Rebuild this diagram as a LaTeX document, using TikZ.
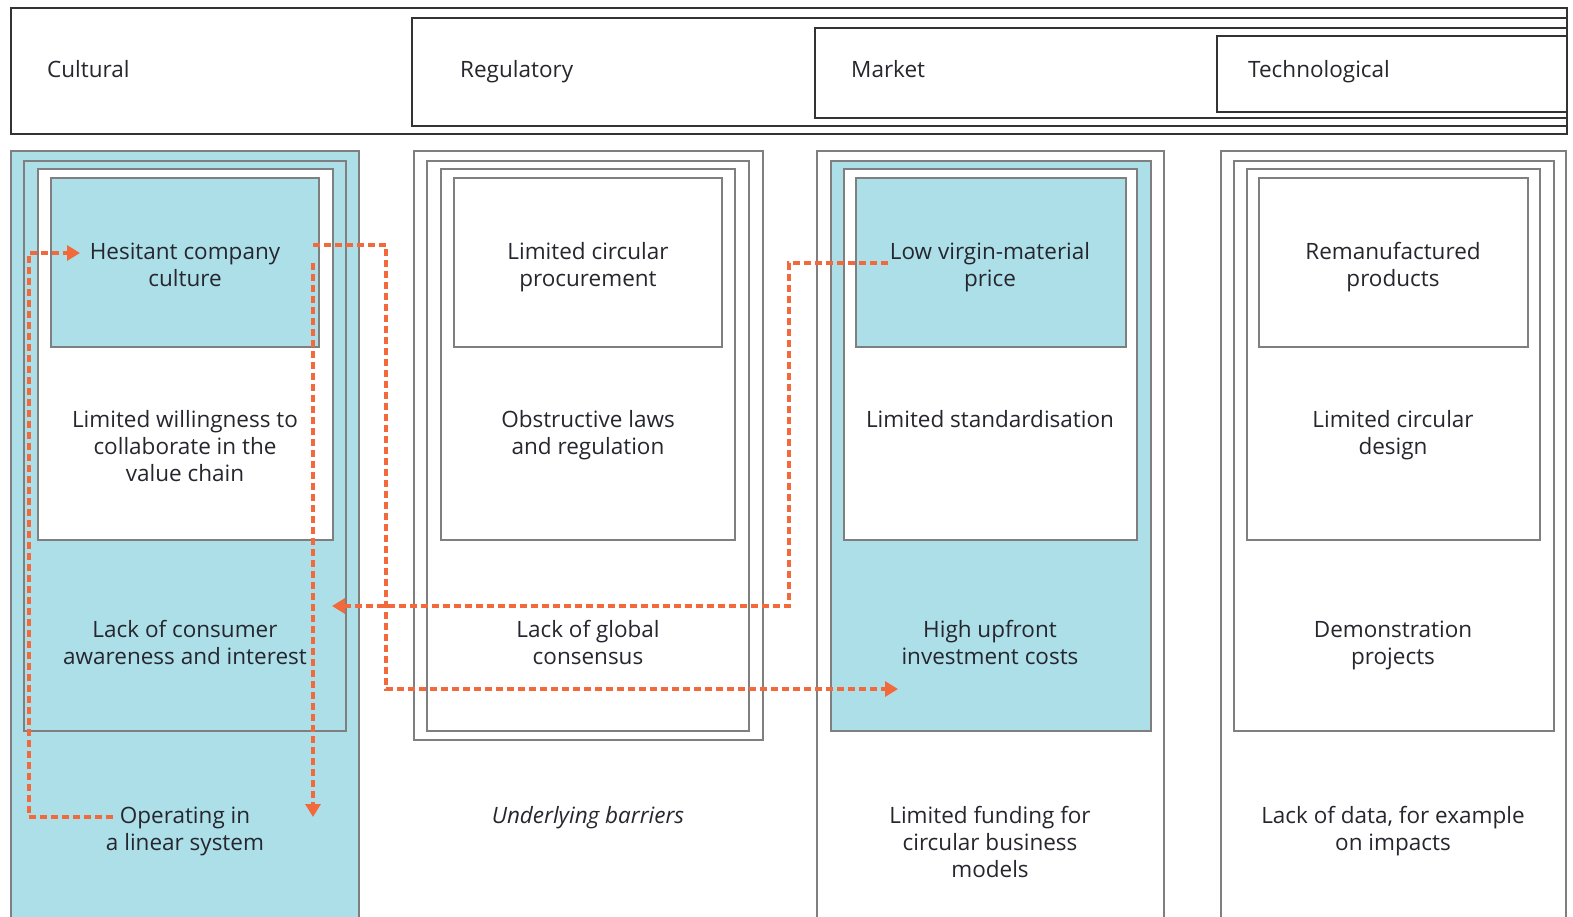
\documentclass[tikz,border=0pt]{standalone}
\usepackage{fontspec}
\setmainfont{Open Sans}
\usetikzlibrary{arrows.meta}
\definecolor{boxblue}{HTML}{ADDFE9}
\definecolor{boxline}{HTML}{7F7F7F}
\definecolor{hdrline}{HTML}{333333}
\definecolor{arr}{HTML}{F26A3B}
\definecolor{txtc}{HTML}{26262E}
\begin{document}
\begin{tikzpicture}[x=1pt,y=-1pt,
 box/.style={draw=boxline,line width=1.4pt},
 bluebox/.style={box,fill=boxblue},
 whitebox/.style={box,fill=white},
 hdr/.style={draw=hdrline,line width=1.3pt,fill=white},
 txt/.style={font=\fontsize{22.5}{27}\selectfont,text=txtc,align=center,anchor=north,inner sep=0pt},
 lbl/.style={font=\fontsize{22.5}{27}\selectfont,text=txtc,anchor=base west,inner sep=0pt},
 link/.style={draw=arr,line width=3.2pt,dash pattern=on 7pt off 4pt},
 tip/.style={-{Triangle[length=13pt,width=15pt]}}
]
\useasboundingbox (0,0) rectangle (1573,917);
\fill[white] (0,0) rectangle (1573,917);
% header
\draw[hdr] (11,8) rectangle (1567,134);
\draw[hdr] (412,18) rectangle (1567,126);
\draw[hdr] (815,28) rectangle (1567,118);
\draw[hdr] (1217,36) rectangle (1567,112);
\node[lbl] (hcult) at (47,78) {Cultural};
\node[lbl] (hreg) at (460,78) {Regulatory};
\node[lbl] (hmar) at (851,78) {Market};
\node[lbl] (htec) at (1248,78) {Technological};
% column 1
\draw[bluebox] (11,151) rectangle (359,930);
\draw[bluebox] (24,161) rectangle (346,731);
\draw[whitebox] (38,169) rectangle (333,540);
\draw[bluebox] (51,178) rectangle (319,347);
% column 2
\draw[whitebox] (414,151) rectangle (763,740);
\draw[whitebox] (427,161) rectangle (749,731);
\draw[whitebox] (441,169) rectangle (735,540);
\draw[whitebox] (454,178) rectangle (722,347);
% column 3
\draw[whitebox] (817,151) rectangle (1164,930);
\draw[bluebox] (831,161) rectangle (1151,731);
\draw[whitebox] (844,169) rectangle (1137,540);
\draw[bluebox] (856,178) rectangle (1126,347);
% column 4
\draw[whitebox] (1221,151) rectangle (1566,930);
\draw[whitebox] (1234,161) rectangle (1554,731);
\draw[whitebox] (1247,169) rectangle (1540,540);
\draw[whitebox] (1259,178) rectangle (1528,347);
% texts
\node[txt] (c1) at (185,242.5) {Hesitant company\\culture};
\node[txt] (c2) at (185,410.5) {Limited willingness to\\collaborate in the\\value chain};
\node[txt] (c3) at (185,620.5) {Lack of consumer\\awareness and interest};
\node[txt] (c4) at (185,806.5) {Operating in\\a linear system};
\node[txt] (r1) at (588,242.5) {Limited circular\\procurement};
\node[txt] (r2) at (588,410.5) {Obstructive laws\\and regulation};
\node[txt] (r3) at (588,620.5) {Lack of global\\consensus};
\node[txt,font=\fontsize{22.5}{27}\selectfont\itshape] (r4) at (588,806.5) {Underlying barriers};
\node[txt] (m1) at (990,242.5) {Low virgin-material\\price};
\node[txt] (m2) at (990,410.5) {Limited standardisation};
\node[txt] (m3) at (990,620.5) {High upfront\\investment costs};
\node[txt] (m4) at (990,806.5) {Limited funding for\\circular business\\models};
\node[txt] (t1) at (1393,242.5) {Remanufactured\\products};
\node[txt] (t2) at (1393,410.5) {Limited circular\\design};
\node[txt] (t3) at (1393,620.5) {Demonstration\\projects};
\node[txt] (t4) at (1393,806.5) {Lack of data, for example\\on impacts};
% connector ends
\coordinate (opL) at (113,817);
\coordinate (hesL) at (80,253);
\coordinate (hesR) at (313,245);
\coordinate (hesD) at (313,263);
\coordinate (opR) at (313,817);
\coordinate (invL) at (898,689);
\coordinate (lowL) at (888,263);
\coordinate (lackR) at (332,606);
% connectors
\draw[link,tip] (opL) -- (29,817) -- (29,253) -- (hesL);
\draw[link,tip] (hesR) -- (386,245) -- (386,689) -- (invL);
\draw[link,tip] (hesD) -- (opR);
\draw[link,tip] (lowL) -- (789,263) -- (789,606) -- (lackR);
\end{tikzpicture}
\end{document}
